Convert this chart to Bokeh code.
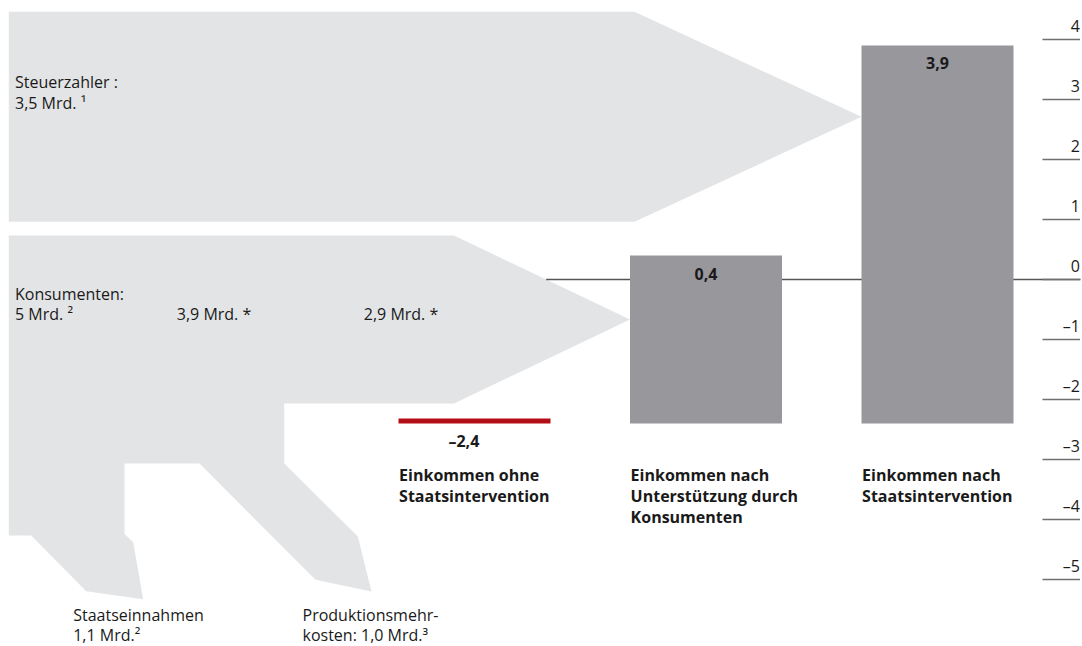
from bokeh.plotting import figure
from bokeh.models import Range1d
from bokeh.core.properties import value
from bokeh.embed import file_html
from bokeh.resources import INLINE

# ---------------- data ----------------
categories = [
    ["Einkommen ohne", "Staatsintervention"],
    ["Einkommen nach", "Unterstützung durch", "Konsumenten"],
    ["Einkommen nach", "Staatsintervention"],
]
income = [-2.4, 0.4, 3.9]                 # Mrd., waterfall levels
income_labels = ["–2,4", "0,4", "3,9"]
tick_values = [4, 3, 2, 1, 0, -1, -2, -3, -4, -5]
tick_labels = ["4", "3", "2", "1", "0", "–1", "–2", "–3", "–4", "–5"]

taxpayers = 3.5            # Steuerzahler
consumers = 5.0            # Konsumenten
state_revenue = 1.1        # Staatseinnahmen
production_costs = 1.0     # Produktionsmehrkosten
after_revenue = 3.9
after_costs = 2.9

taxpayer_text = ["Steuerzahler :", "3,5 Mrd. ¹"]
consumer_text = ["Konsumenten:", "5 Mrd. ²"]
mid_texts = ["3,9 Mrd. *", "2,9 Mrd. *"]
revenue_text = ["Staatseinnahmen", "1,1 Mrd.²"]
costs_text = ["Produktionsmehr-", "kosten: 1,0 Mrd.³"]

# ---------------- layout ----------------
W, H = 1082, 646
PX = 60.0          # pixels per Mrd.
Y0 = 279.0         # pixel row of zero
FONT = "Open Sans"
FS = "16px"
LIGHT = "#e3e4e6"
BAR = "#98979c"
RED = "#b30d15"
TXT = "#1a1a1a"
TSHIFT = 7.0       # text baseline correction (px)


def yv(px):
    return (Y0 - px) / PX


def ty(px):
    return yv(px - TSHIFT)


def d(px):
    return px / PX


col_left0, col_step, col_w = 398.0, 231.5, 152.0
lefts = [col_left0 + i * col_step for i in range(len(income))]
rights = [l + col_w for l in lefts]

p = figure(width=W, height=H, x_range=Range1d(0, W), y_range=Range1d(yv(H), yv(0)),
           output_backend="svg", toolbar_location=None,
           x_axis_location=None, y_axis_location=None, min_border=0,
           outline_line_color=None, background_fill_color="white",
           border_fill_color="white")
p.grid.visible = False

# ---- taxpayer arrow (width = increase from bar 2 to bar 3) ----
tax_w = income[2] - income[1]
t_top = yv(11.3)
t_bot = t_top - tax_w
t_mid = (t_top + t_bot) / 2
t_head = 634.0
t_tip = lefts[2]
p.patch([8.3, t_head, t_tip, t_head, 8.3], [t_top, t_top, t_mid, t_bot, t_bot],
        fill_color=LIGHT, line_color=None)

# ---- consumer flow ----
cons_w = income[1] - income[0]
c_top = yv(235)
c_b28 = c_top - cons_w
c_b38 = c_top - (cons_w + production_costs)
c_full = c_top - consumers
c_mid = (c_top + c_b28) / 2
c_head = 453.5
c_tip = lefts[1]
cx = [8.3, c_head, c_tip, c_head, 283.7, 283.7, 357.3, 371.0, 315.0, 199.0,
      124.0, 124.0, 132.7, 142.7, 85.7, 30.7, 8.3]
cy = [c_top, c_top, c_mid, c_b28, c_b28, c_b38,
      c_b38 - d(73), c_b38 - d(128), c_b38 - d(116.3), c_b38,
      c_b38, c_full + d(1.6), c_full - d(6.7), c_full - d(63.7), c_full - d(55.7),
      c_full, c_full]
p.patch(cx, cy, fill_color=LIGHT, line_color=None)

# ---- zero line (starts at the consumer arrow edge) ----
zx0 = c_head + (c_top - 0) / (c_top - c_mid) * (c_tip - c_head)
p.segment(x0=[zx0], y0=[0], x1=[1080], y1=[0], line_color="#555555", line_width=1.5)

# ---- right scale ticks ----
p.segment(x0=[1042] * len(tick_values), y0=tick_values,
          x1=[1079.5] * len(tick_values), y1=tick_values,
          line_color="#6f6f6f", line_width=1.5)
p.text(x=[1079.5] * len(tick_values), y=[v + d(7 + TSHIFT) for v in tick_values],
       text=tick_labels, text_font=value(FONT), text_font_size=FS, text_align="right",
       text_baseline="alphabetic", text_color=TXT)

# ---- bars (waterfall) ----
base = income[0]
p.quad(left=lefts[1:], right=rights[1:], bottom=[base] * 2, top=income[1:],
       fill_color=BAR, line_color=None)
p.quad(left=[lefts[0]], right=[rights[0]], bottom=[income[0]], top=[income[0] + d(5)],
       fill_color=RED, line_color=None)

# ---- value labels ----
vx = [463.4, (lefts[1] + rights[1]) / 2, (lefts[2] + rights[2]) / 2]
vy = [income[0] - d(24 - TSHIFT), income[1] - d(25 - TSHIFT), income[2] - d(24 - TSHIFT)]
p.text(x=vx, y=vy, text=income_labels, text_align="center",
       text_font=value(FONT), text_font_size=FS, text_font_style="bold",
       text_baseline="alphabetic", text_color=TXT)

# ---- category labels ----
LS = 21.0
cat_x, cat_y, cat_t = [], [], []
for i, lines in enumerate(categories):
    for j, line in enumerate(lines):
        cat_x.append(lefts[i] + 0.6)
        cat_y.append(ty(481.5 + j * LS))
        cat_t.append(line)
p.text(x=cat_x, y=cat_y, text=cat_t, text_font=value(FONT), text_font_size=FS,
       text_font_style="bold", text_align="left", text_baseline="alphabetic",
       text_color=TXT)

# ---- flow labels ----
fx, fy, ft = [], [], []
for j, line in enumerate(taxpayer_text):
    fx.append(14.5); fy.append(ty(88.3 + j * LS)); ft.append(line)
for j, line in enumerate(consumer_text):
    fx.append(14.5); fy.append(ty(300 + j * 20)); ft.append(line)
for xx, line in zip([176.3, 363.3], mid_texts):
    fx.append(xx); fy.append(ty(320)); ft.append(line)
for j, line in enumerate(revenue_text):
    fx.append(72.7); fy.append(ty(621.7 + j * 20)); ft.append(line)
for j, line in enumerate(costs_text):
    fx.append(302.0); fy.append(ty(621.7 + j * 20)); ft.append(line)
p.text(x=fx, y=fy, text=ft, text_font=value(FONT), text_font_size=FS,
       text_align="left", text_baseline="alphabetic", text_color=TXT)

open("out.html", "w").write(file_html(p, INLINE))
